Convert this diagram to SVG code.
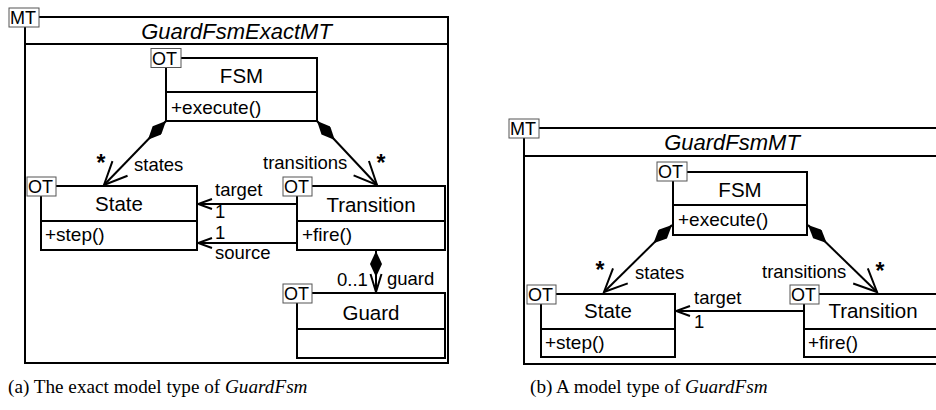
<svg xmlns="http://www.w3.org/2000/svg" width="936" height="410" viewBox="0 0 936 410">
<style>
.frame{fill:#fff;stroke:#000;stroke-width:2}
.box{fill:#fff;stroke:#000;stroke-width:2}
.sep{stroke:#000;stroke-width:2}
.tag{fill:#fff;stroke:#555;stroke-width:1}
.tagt{font-family:"Liberation Sans",Arial,sans-serif;font-size:18px;fill:#000}
.title{font-family:"Liberation Sans",Arial,sans-serif;font-size:22px;font-style:italic;text-anchor:middle}
.cname{font-family:"Liberation Sans",Arial,sans-serif;font-size:20.5px;text-anchor:middle}
.op{font-family:"Liberation Sans",Arial,sans-serif;font-size:19px}
.lbl{font-family:"Liberation Sans",Arial,sans-serif;font-size:18.5px}
.star{font-family:"Liberation Sans",Arial,sans-serif;font-size:23px;font-weight:bold;text-anchor:middle}
.conn{fill:none;stroke:#000;stroke-width:2}
.cap{font-family:"Liberation Serif","Times New Roman",serif;font-size:19.2px}
</style>
<defs>
<marker id="diamond" markerUnits="userSpaceOnUse" viewBox="0 0 26 12" refX="0" refY="6" markerWidth="26" markerHeight="12" orient="auto"><path d="M0,6 L13,0 L26,6 L13,12 Z" fill="#000"/></marker>
<marker id="arrowBig" markerUnits="userSpaceOnUse" viewBox="-2 -2 27 25" refX="23" refY="10.5" markerWidth="27" markerHeight="25" orient="auto"><path d="M0,0 L23,10.5 L0,21" fill="none" stroke="#000" stroke-width="2"/></marker>
<marker id="arrowSmall" markerUnits="userSpaceOnUse" viewBox="-2 -2 18 14" refX="14" refY="5" markerWidth="18" markerHeight="14" orient="auto"><path d="M0,0 L14,5 L0,10" fill="none" stroke="#000" stroke-width="2"/></marker>
<marker id="arrowMid" markerUnits="userSpaceOnUse" viewBox="-2 -2 22 15" refX="18" refY="5.5" markerWidth="22" markerHeight="15" orient="auto"><path d="M0,0 L18,5.5 L0,11" fill="none" stroke="#000" stroke-width="2"/></marker>
</defs>

<!-- (a) exact model type -->
<g id="mt-exact">
<rect class="frame" x="25" y="17" width="423" height="346"/>
<line class="sep" x1="25" y1="44" x2="448" y2="44"/>
<rect class="tag" x="9" y="8" width="30" height="19"/>
<text class="tagt" x="10" y="24">MT</text>
<text class="title" x="236.5" y="39">GuardFsmExactMT</text>
</g>

<g id="a-fsm">
<rect class="box" x="166" y="58" width="151" height="63"/>
<line class="sep" x1="166" y1="92" x2="317" y2="92"/>
<rect class="tag" x="151" y="48.5" width="30" height="19"/>
<text class="tagt" x="152" y="64.5">OT</text>
<text class="cname" x="241.5" y="83">FSM</text>
<text class="op" x="171" y="114">+execute()</text>
</g>

<g id="a-state">
<rect class="box" x="41" y="186" width="156" height="64"/>
<line class="sep" x1="41" y1="221" x2="197" y2="221"/>
<rect class="tag" x="27" y="177" width="29" height="19"/>
<text class="tagt" x="28" y="193">OT</text>
<text class="cname" x="119" y="211">State</text>
<text class="op" x="45" y="241">+step()</text>
</g>

<g id="a-transition">
<rect class="box" x="297" y="186" width="148" height="64"/>
<line class="sep" x1="297" y1="221" x2="445" y2="221"/>
<rect class="tag" x="283" y="177" width="29" height="19"/>
<text class="tagt" x="284" y="193">OT</text>
<text class="cname" x="371" y="212">Transition</text>
<text class="op" x="302" y="241">+fire()</text>
</g>

<g id="a-guard">
<rect class="box" x="297" y="293" width="148" height="65"/>
<line class="sep" x1="297" y1="329" x2="445" y2="329"/>
<rect class="tag" x="283" y="284" width="29" height="19"/>
<text class="tagt" x="284" y="300">OT</text>
<text class="cname" x="371" y="320">Guard</text>
</g>

<!-- (b) model type -->
<g id="mt-model">
<rect class="frame" x="524" y="128" width="420" height="236"/>
<line class="sep" x1="524" y1="156" x2="944" y2="156"/>
<rect class="tag" x="509" y="119" width="30" height="19"/>
<text class="tagt" x="510" y="135">MT</text>
<text class="title" x="732" y="150">GuardFsmMT</text>
</g>

<g id="b-fsm">
<rect class="box" x="673" y="172" width="134" height="63"/>
<line class="sep" x1="673" y1="205" x2="807" y2="205"/>
<rect class="tag" x="657" y="162" width="30" height="19"/>
<text class="tagt" x="658" y="178">OT</text>
<text class="cname" x="740" y="197">FSM</text>
<text class="op" x="678" y="226">+execute()</text>
</g>

<g id="b-state">
<rect class="box" x="541" y="294" width="134" height="63"/>
<line class="sep" x1="541" y1="329" x2="675" y2="329"/>
<rect class="tag" x="527" y="285" width="29" height="19"/>
<text class="tagt" x="528" y="301">OT</text>
<text class="cname" x="608" y="318">State</text>
<text class="op" x="545" y="349">+step()</text>
</g>

<g id="b-transition">
<rect class="box" x="804" y="294" width="140" height="63"/>
<line class="sep" x1="804" y1="329" x2="944" y2="329"/>
<rect class="tag" x="790" y="285" width="29" height="19"/>
<text class="tagt" x="791" y="301">OT</text>
<text class="cname" x="873" y="318">Transition</text>
<text class="op" x="808" y="349">+fire()</text>
</g>

<g id="connectors">
<path class="conn" d="M166,121 L104,185" marker-start="url(#diamond)" marker-end="url(#arrowBig)"/>
<path class="conn" d="M317,121 L377,185" marker-start="url(#diamond)" marker-end="url(#arrowBig)"/>
<path class="conn" d="M297,204 L198,204" marker-end="url(#arrowSmall)"/>
<path class="conn" d="M297,243 L198,243" marker-end="url(#arrowSmall)"/>
<path class="conn" d="M376,251 L376,292" marker-start="url(#diamond)" marker-end="url(#arrowMid)"/>
<path class="conn" d="M672,225 L604,292" marker-start="url(#diamond)" marker-end="url(#arrowBig)"/>
<path class="conn" d="M808,225 L877,292" marker-start="url(#diamond)" marker-end="url(#arrowBig)"/>
<path class="conn" d="M804,311 L676,311" marker-end="url(#arrowSmall)"/>
<text class="star" x="101" y="171">*</text>
<text class="lbl" x="134" y="171">states</text>
<text class="lbl" x="263" y="169">transitions</text>
<text class="star" x="381" y="171">*</text>
<text class="lbl" x="215" y="196">target</text>
<text class="lbl" x="215" y="218">1</text>
<text class="lbl" x="215" y="239">1</text>
<text class="lbl" x="215" y="259">source</text>
<text class="lbl" x="337" y="286">0..1</text>
<text class="lbl" x="387" y="285">guard</text>
<text class="star" x="600" y="278">*</text>
<text class="lbl" x="635" y="279">states</text>
<text class="lbl" x="762" y="278">transitions</text>
<text class="star" x="880" y="279">*</text>
<text class="lbl" x="694" y="304">target</text>
<text class="lbl" x="694" y="328">1</text>
</g>

<g id="captions">
<text class="cap" x="8" y="393">(a) The exact model type of <tspan font-style="italic">GuardFsm</tspan></text>
<text class="cap" x="530" y="393">(b) A model type of <tspan font-style="italic">GuardFsm</tspan></text>
</g>
</svg>
